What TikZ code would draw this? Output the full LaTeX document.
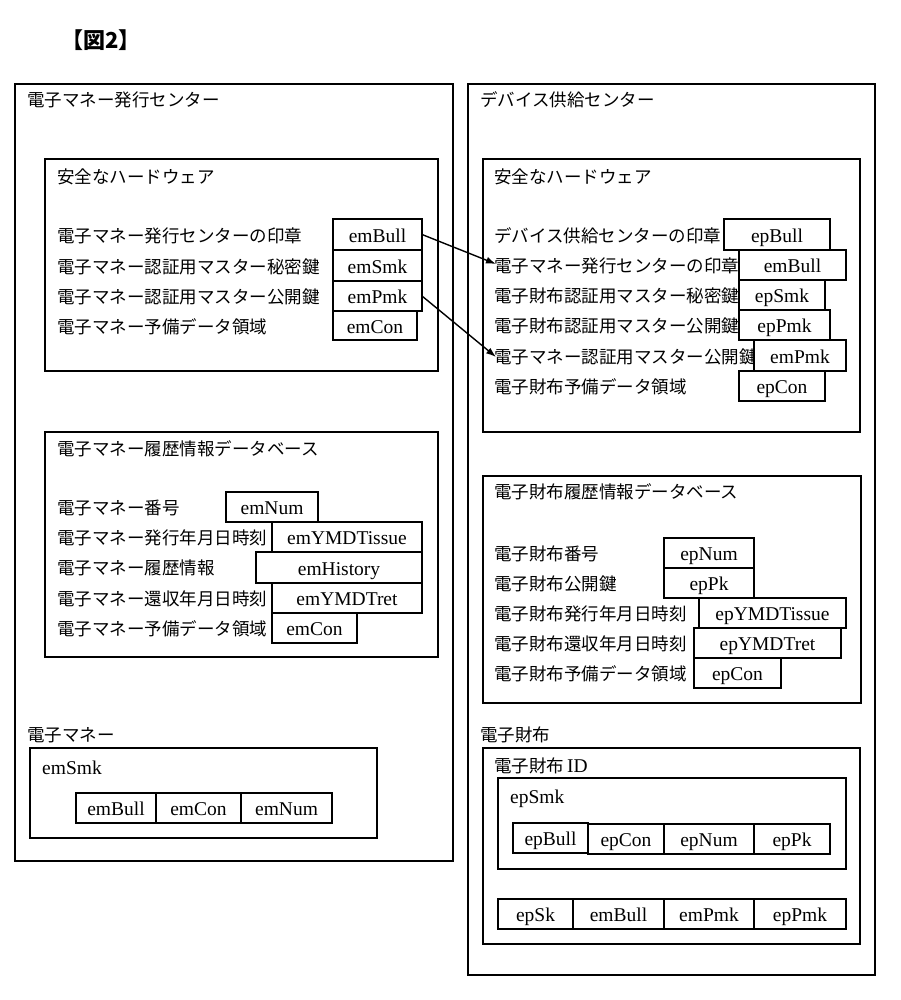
\documentclass[tikz,border=0pt]{standalone}
\usepackage{fontspec}
\setmainfont{Liberation Serif}
\newfontfamily\jp{Noto Sans CJK JP}
\usetikzlibrary{arrows.meta}
\tikzset{
  frame/.style={draw, line width=1.1pt},
  jl/.style={anchor=west, inner sep=0pt, font=\jp\fontsize{17.5}{20}\selectfont},
  ll/.style={anchor=west, inner sep=0pt, font=\fontsize{19.5}{22}\selectfont},
  cellst/.style={draw, fill=white, line width=1.1pt, inner sep=0pt, outer sep=0pt, text height=15pt, text depth=0pt, font=\fontsize{19.5}{22}\selectfont},
  arr/.style={-{Latex[length=10pt,width=7pt]}, line width=1.4pt}
}
\newcommand\mybox[6]{\node[cellst, minimum width={#4pt-#2pt}, minimum height={#5pt-#3pt}] (#1) at ({(#2+#4)/2},{(#3+#5)/2}) {#6};}
\begin{document}
\begin{tikzpicture}[x=1pt,y=-1pt]
\useasboundingbox[fill=white] (0,0) rectangle (901,1000);
\node[font=\jp\bfseries\fontsize{22}{26}\selectfont, inner sep=0pt] (title) at (101,40) {【図2】};

% ---------- left: issuing center ----------
\draw[frame] (15,84) rectangle (453,861);
\node[jl] (lc) at (27,100) {電子マネー発行センター};

\draw[frame] (45,159) rectangle (438,371);
\node[jl] (lhw) at (57,177) {安全なハードウェア};
\node[jl] (l1) at (57,236) {電子マネー発行センターの印章};
\node[jl] (l2) at (57,267) {電子マネー認証用マスター秘密鍵};
\node[jl] (l3) at (57,297) {電子マネー認証用マスター公開鍵};
\node[jl] (l4) at (57,327) {電子マネー予備データ領域};
\mybox{emBullA}{333}{219}{422}{250}{emBull}
\mybox{emSmkA}{333}{250}{422}{281}{emSmk}
\mybox{emPmkA}{333}{281}{422}{311}{emPmk}
\mybox{emConA}{333}{311}{417}{340}{emCon}

\draw[frame] (45,432) rectangle (438,657);
\node[jl] (ldb) at (57,449) {電子マネー履歴情報データベース};
\node[jl] (d1) at (57,508) {電子マネー番号};
\node[jl] (d2) at (57,538) {電子マネー発行年月日時刻};
\node[jl] (d3) at (57,568) {電子マネー履歴情報};
\node[jl] (d4) at (57,599) {電子マネー還収年月日時刻};
\node[jl] (d5) at (57,629) {電子マネー予備データ領域};
\mybox{emNumB}{226}{492}{318}{522}{emNum}
\mybox{emIssB}{272}{522}{422}{552}{emYMDTissue}
\mybox{emHisB}{256}{552}{422}{583}{emHistory}
\mybox{emRetB}{272}{583}{422}{613}{emYMDTret}
\mybox{emConB}{272}{613}{357}{643}{emCon}

\node[jl] (lem) at (27,735) {電子マネー};
\draw[frame] (30,748) rectangle (377,838);
\node[ll] (lsmk) at (42,768) {emSmk};
\mybox{emBullC}{76}{793}{156}{823}{emBull}
\mybox{emConC}{156}{793}{241}{823}{emCon}
\mybox{emNumC}{241}{793}{332}{823}{emNum}

% ---------- right: device supply center ----------
\draw[frame] (468,84) rectangle (875,975);
\node[jl] (rc) at (480,100) {デバイス供給センター};

\draw[frame] (483,159) rectangle (860,432);
\node[jl] (rhw) at (494,177) {安全なハードウェア};
\node[jl] (r1) at (494,236) {デバイス供給センターの印章};
\node[jl] (r2) at (494,266) {電子マネー発行センターの印章};
\node[jl] (r3) at (494,296) {電子財布認証用マスター秘密鍵};
\node[jl] (r4) at (494,326) {電子財布認証用マスター公開鍵};
\node[jl] (r5) at (494,357) {電子マネー認証用マスター公開鍵};
\node[jl] (r6) at (494,387) {電子財布予備データ領域};
\mybox{epBullA}{724}{219}{830}{250}{epBull}
\mybox{emBullR}{739}{250}{846}{280}{emBull}
\mybox{epSmkA}{739}{280}{825}{310}{epSmk}
\mybox{epPmkA}{739}{310}{830}{340}{epPmk}
\mybox{emPmkR}{754}{340}{846}{371}{emPmk}
\mybox{epConA}{739}{371}{825}{401}{epCon}

\draw[frame] (483,476) rectangle (861,703);
\node[jl] (rdb) at (494,492) {電子財布履歴情報データベース};
\node[jl] (e1) at (494,554) {電子財布番号};
\node[jl] (e2) at (494,584) {電子財布公開鍵};
\node[jl] (e3) at (494,614) {電子財布発行年月日時刻};
\node[jl] (e4) at (494,644) {電子財布還収年月日時刻};
\node[jl] (e5) at (494,674) {電子財布予備データ領域};
\mybox{epNumB}{664}{538}{754}{568}{epNum}
\mybox{epPkB}{664}{568}{754}{598}{epPk}
\mybox{epIssB}{699}{598}{846}{628}{epYMDTissue}
\mybox{epRetB}{694}{628}{841}{658}{epYMDTret}
\mybox{epConB}{694}{658}{781}{688}{epCon}

\node[jl] (lep) at (480,735) {電子財布};
\draw[frame] (483,748) rectangle (860,944);
\node[jl] (lid) at (494,766) {電子財布\,{\rmfamily\fontsize{19.5}{22}\selectfont ID}};
\draw[frame] (498,778) rectangle (846,869);
\node[ll] (lepsmk) at (510,799) {epSmk};
\mybox{epBullC}{513}{823}{588}{853}{epBull}
\mybox{epConC}{588}{824}{664}{854}{epCon}
\mybox{epNumC}{664}{824}{754}{854}{epNum}
\mybox{epPkC}{754}{824}{830}{854}{epPk}
\mybox{epSkD}{498}{899}{573}{929}{epSk}
\mybox{emBullD}{573}{899}{664}{929}{emBull}
\mybox{emPmkD}{664}{899}{754}{929}{emPmk}
\mybox{epPmkD}{754}{899}{846}{929}{epPmk}

% ---------- arrows ----------
\coordinate (t1) at (496,264);
\coordinate (t2) at (496,357);
\draw[arr] (emBullA.east) -- (t1);
\draw[arr] (emPmkA.east) -- (t2);
\end{tikzpicture}
\end{document}
